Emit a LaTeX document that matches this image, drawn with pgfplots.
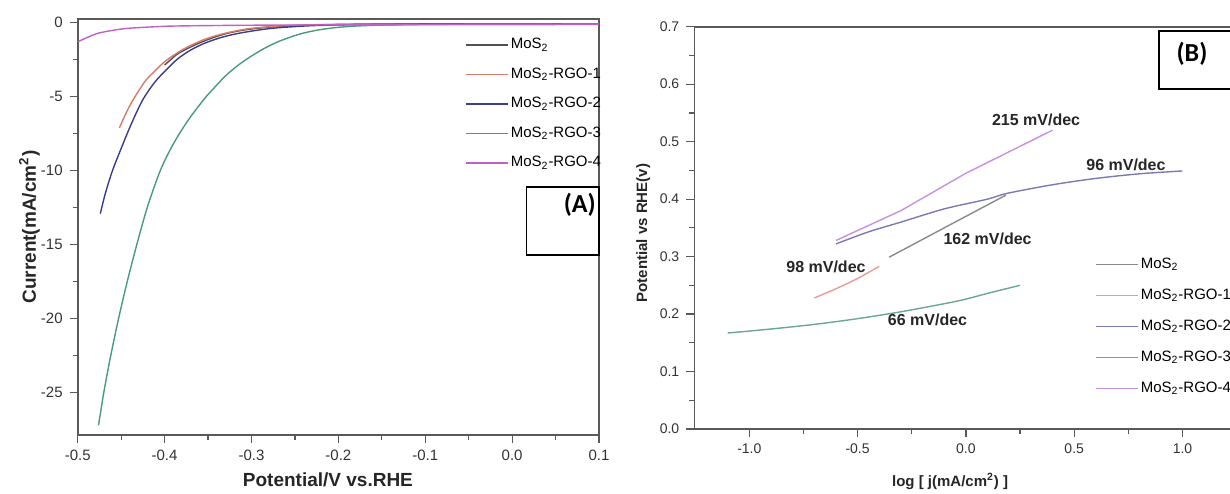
\documentclass[border=0pt]{standalone}
\usepackage{pgfplots}
\pgfplotsset{compat=1.18}
\usepackage{fontspec}
\setmainfont{Liberation Sans}
\newfontfamily\calib{Carlito}

\definecolor{cA}{HTML}{505050}
\definecolor{cB}{HTML}{D87A6A}
\definecolor{cC}{HTML}{3C3C8C}
\definecolor{cD}{HTML}{4A9A80}
\definecolor{cE}{HTML}{C060C8}
\definecolor{dA}{HTML}{8A8A8A}
\definecolor{dB}{HTML}{E89A9A}
\definecolor{dC}{HTML}{7A7AB4}
\definecolor{dD}{HTML}{6AA890}
\definecolor{dE}{HTML}{C890E0}

\pgfplotsset{
  panel/.style={
    scale only axis, anchor=south west,
    axis line style={draw=black!65, line width=0.8pt},
    tick style={draw=black!65, line width=0.6pt},
    tick align=outside, xtick pos=bottom, ytick pos=left,
    major tick length=4pt, minor tick length=2.5pt,
    minor x tick num=1, minor y tick num=1,
    ticklabel style={font=\fontsize{7}{8}\selectfont, text=black!80},
    /pgf/number format/assume math mode=true,
    label style={font=\bfseries\fontsize{7.5}{9}\selectfont, text=black!85},
    legend style={draw=none, fill=none, font=\fontsize{7.5}{8.5}\selectfont,
      row sep=6pt, inner sep=0pt, nodes={inner sep=1pt}},
    legend cell align=left,
    legend image code/.code={\draw[##1] (0pt,0pt) -- (21pt,0pt);},
    every axis plot/.append style={line width=0.7pt},
    clip=false,
  }
}

\begin{document}
\begin{tikzpicture}

% (A) polarisation curves
\begin{axis}[panel, at={(38.85pt,29pt)}, width=260.65pt, height=207.85pt,
  xmin=-0.5, xmax=0.1, ymin=-27.86, ymax=0.23,
  xtick={-0.5,-0.4,-0.3,-0.2,-0.1,0,0.1},
  ytick={-25,-20,-15,-10,-5,0},
  ticklabel style={font=\fontsize{7.5}{8.5}\selectfont},
  xticklabel style={/pgf/number format/.cd, fixed, fixed zerofill, precision=1},
  label style={font=\bfseries\fontsize{9.5}{11}\selectfont},
  xlabel={Potential/V vs.RHE},
  ylabel={Current(mA/cm\textsuperscript{2})},
  xlabel style={at={(axis description cs:0.48,-0.108)}, anchor=center},
  ylabel style={at={(axis description cs:-0.0925,0.5)}, anchor=center},
  legend style={at={(axis description cs:0.743,0.960)}, anchor=north west},
]
\addplot[cA, smooth] coordinates {
  (-0.400,-2.86) (-0.392,-2.45) (-0.384,-2.07) (-0.365,-1.50) (-0.346,-1.05)
  (-0.328,-0.72) (-0.308,-0.49) (-0.280,-0.30) (-0.240,-0.17) (-0.180,-0.10)
  (-0.100,-0.08) (0.100,-0.07)};
\addlegendentry{MoS\textsubscript{2}}
\addplot[cB, smooth] coordinates {
  (-0.452,-7.10) (-0.440,-5.60) (-0.423,-4.00) (-0.410,-3.20) (-0.400,-2.64)
  (-0.387,-2.10) (-0.373,-1.62) (-0.355,-1.15) (-0.338,-0.83) (-0.320,-0.58)
  (-0.300,-0.38) (-0.262,-0.20) (-0.220,-0.13) (-0.150,-0.10) (0.100,-0.08)};
\addlegendentry{MoS\textsubscript{2}-RGO-1}
\addplot[cC, smooth] coordinates {
  (-0.474,-12.9) (-0.468,-11.5) (-0.460,-10.0) (-0.450,-8.5) (-0.438,-6.8)
  (-0.425,-5.2) (-0.411,-4.0) (-0.395,-3.0) (-0.384,-2.4) (-0.370,-1.85)
  (-0.354,-1.39) (-0.335,-1.00) (-0.315,-0.72) (-0.290,-0.48) (-0.269,-0.34)
  (-0.230,-0.20) (-0.180,-0.13) (-0.100,-0.10) (0.100,-0.08)};
\addlegendentry{MoS\textsubscript{2}-RGO-2}
\addplot[cD, smooth] coordinates {
  (-0.476,-27.2) (-0.470,-25.0) (-0.462,-22.5) (-0.453,-20.0) (-0.443,-17.5)
  (-0.432,-15.0) (-0.420,-12.5) (-0.405,-10.0) (-0.390,-8.2) (-0.373,-6.6)
  (-0.355,-5.2) (-0.346,-4.6) (-0.330,-3.6) (-0.315,-2.86) (-0.300,-2.25)
  (-0.285,-1.73) (-0.270,-1.30) (-0.254,-0.95) (-0.240,-0.70) (-0.223,-0.49)
  (-0.200,-0.31) (-0.170,-0.20) (-0.130,-0.14) (-0.050,-0.10) (0.100,-0.08)};
\addlegendentry{MoS\textsubscript{2}-RGO-3}
\addplot[cE, smooth] coordinates {
  (-0.500,-1.30) (-0.490,-1.02) (-0.477,-0.72) (-0.460,-0.52) (-0.442,-0.38)
  (-0.410,-0.27) (-0.384,-0.22) (-0.300,-0.17) (-0.200,-0.15) (0.000,-0.13)
  (0.100,-0.12)};
\addlegendentry{MoS\textsubscript{2}-RGO-4}
\draw[black, line width=0.8pt] (axis cs:0.0165,-11.12) rectangle (axis cs:0.1,-15.7);
\node[font=\calib\bfseries\fontsize{13}{14}\selectfont, anchor=north east, inner sep=1pt]
  at (axis cs:0.099,-11.35) {(A)};
\end{axis}

% (B) Tafel plots
\begin{axis}[panel, at={(347.15pt,32pt)}, width=287.4pt, height=201.15pt,
  axis y line*=left,
  xmin=-1.254, xmax=1.4, ymin=0, ymax=0.7,
  xtick={-1,-0.5,0,0.5,1},
  ytick={0,0.1,0.2,0.3,0.4,0.5,0.6,0.7},
  ticklabel style={/pgf/number format/.cd, fixed, fixed zerofill, precision=1},
  xlabel={log [ j(mA/cm\textsuperscript{2}) ]},
  ylabel={Potential vs RHE(v)},
  xlabel style={at={(axis description cs:0.445,-0.131)}, anchor=center},
  ylabel style={at={(axis description cs:-0.0887,0.487)}, anchor=center},
  legend style={at={(axis description cs:0.697,0.432)}, anchor=north west, row sep=6.8pt},
]
\addplot[dA] coordinates {(-0.354,0.299) (-0.10,0.350) (0.185,0.407)};
\addlegendentry{MoS\textsubscript{2}}
\addplot[dB, smooth] coordinates {(-0.70,0.228) (-0.60,0.244) (-0.50,0.262) (-0.40,0.283)};
\addlegendentry{MoS\textsubscript{2}-RGO-1}
\addplot[dC, smooth] coordinates {
  (-0.60,0.322) (-0.45,0.343) (-0.30,0.360) (-0.10,0.383) (0.10,0.400)
  (0.19,0.410) (0.40,0.425) (0.60,0.436) (0.80,0.444) (1.00,0.449)};
\addlegendentry{MoS\textsubscript{2}-RGO-2}
\addplot[dD, smooth] coordinates {
  (-1.10,0.167) (-0.90,0.174) (-0.70,0.182) (-0.50,0.192) (-0.30,0.204)
  (-0.10,0.218) (0.00,0.226) (0.10,0.236) (0.25,0.250)};
\addlegendentry{MoS\textsubscript{2}-RGO-3}
\addplot[dE] coordinates {(-0.60,0.328) (-0.30,0.380) (0.00,0.445) (0.40,0.520)};
\addlegendentry{MoS\textsubscript{2}-RGO-4}
\begin{scope}[every node/.style={font=\bfseries\fontsize{8}{9}\selectfont, text=black!85}]
\node at (axis cs:0.324,0.5375) {215 mV/dec};
\node at (axis cs:0.739,0.459) {96 mV/dec};
\node at (axis cs:0.10,0.331) {162 mV/dec};
\node at (axis cs:-0.646,0.2815) {98 mV/dec};
\node at (axis cs:-0.177,0.19) {66 mV/dec};
\end{scope}
\draw[black, line width=0.8pt] (axis cs:0.891,0.592) rectangle (axis cs:1.5,0.693);
\node[font=\calib\bfseries\fontsize{13}{14}\selectfont] at (axis cs:1.044,0.653) {(B)};
\end{axis}

\pgfresetboundingbox
\path[use as bounding box] (0pt,0pt) rectangle (615pt,246.5pt);
\end{tikzpicture}
\end{document}
